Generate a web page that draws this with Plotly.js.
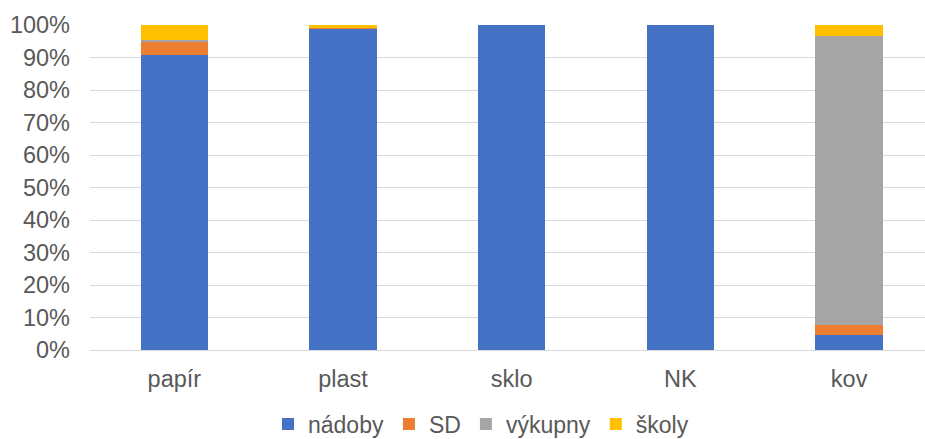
<!DOCTYPE html>
<html>
<head>
<meta charset="utf-8">
<script src="https://cdn.plot.ly/plotly-3.0.1.min.js"></script>
<style>html,body{margin:0;padding:0;background:#fff;}#chart{width:925px;height:439px;}</style>
</head>
<body>
<div id="chart"></div>
<script>
const categories = ["papír", "plast", "sklo", "NK", "kov"];
const nadoby = [0.909, 0.989, 1.0, 1.0, 0.046];
const sd = [0.038, 0.001, 0.0, 0.0, 0.030];
const vykupny = [0.006, 0.0, 0.0, 0.0, 0.889];
const skoly = [0.047, 0.010, 0.0, 0.0, 0.035];

const seriesNames = ["nádoby", "SD", "výkupny", "školy"];
const seriesValues = [nadoby, sd, vykupny, skoly];
const seriesColors = ["#4472C4", "#ED7D31", "#A5A5A5", "#FFC000"];

const traces = seriesNames.map((n, i) => ({
  type: "bar",
  name: n,
  x: categories,
  y: seriesValues[i],
  marker: { color: seriesColors[i], line: { width: 0 } },
  hoverinfo: "x+y+name"
}));

const FS = 23.5;
const layout = {
  width: 925,
  height: 439,
  barmode: "stack",
  bargap: 0.6,
  margin: { l: 90, r: 0, t: 25, b: 89 },
  paper_bgcolor: "#ffffff",
  plot_bgcolor: "#ffffff",
  font: { family: "Liberation Sans, Arial, sans-serif", size: FS, color: "#595959" },
  xaxis: {
    type: "category",
    range: [-0.5, 4.45],
    showgrid: false,
    showline: false,
    ticks: "",
    tickfont: { size: FS, color: "#595959" },
    ticklabelstandoff: 12
  },
  yaxis: {
    range: [0, 1],
    dtick: 0.1,
    tickformat: ".0%",
    showgrid: true,
    gridcolor: "#D9D9D9",
    gridwidth: 1,
    zeroline: true,
    zerolinecolor: "#D9D9D9",
    zerolinewidth: 1,
    showline: false,
    ticks: "",
    tickfont: { size: FS, color: "#595959" },
    ticklabelstandoff: 19
  },
  legend: {
    orientation: "h",
    xref: "container",
    yref: "container",
    x: 0.52,
    xanchor: "center",
    y: 0.034,
    yanchor: "middle",
    traceorder: "normal",
    font: { size: 23, color: "#595959" },
    itemwidth: 30,
    tracegroupgap: 0
  },
  showlegend: true
};

Plotly.newPlot("chart", traces, layout, { displayModeBar: false, staticPlot: true });
</script>
</body>
</html>
